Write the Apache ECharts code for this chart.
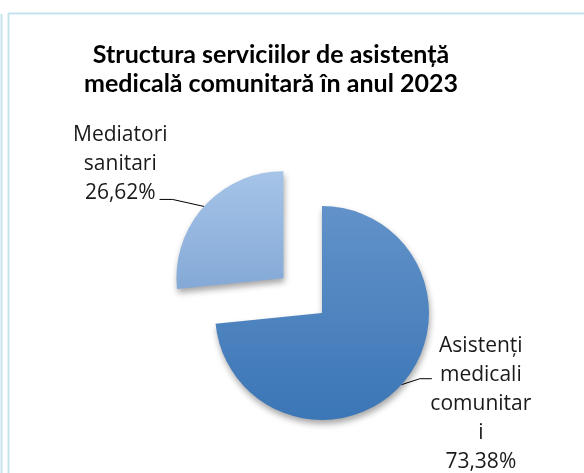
<!DOCTYPE html>
<html>
<head>
<meta charset="utf-8">
<script src="https://cdn.jsdelivr.net/npm/echarts@6/dist/echarts.min.js"></script>
<style>
  html, body { margin: 0; padding: 0; background: #fff; }
  #chart { width: 584px; height: 473px; }
</style>
</head>
<body>
<div id="chart"></div>
<script>
// date din grafic
const categories = ['Asistenți medicali comunitari', 'Mediatori sanitari'];
const values = [73.38, 26.62];
// textul etichetelor, rupt pe rânduri ca în original
const labelLines = [
    ['Asistenți', 'medicali', 'comunitar', 'i'],
    ['Mediatori', 'sanitari']
];

const chart = echarts.init(document.getElementById('chart'));

const fmtPct = v => v.toFixed(2).replace('.', ',') + '%';

// fiecare eticheta are propria pozitie fata de linia de legatura
const labelTweaks = [
    { padding: [31, 0, 0, 0], distanceToLabelLine: -1.5, length2: 26, rise: 6, bend: -12 },
    { padding: [0, 0, 77, 0], distanceToLabelLine: -8, length2: 40, rise: 7, bend: 13 }
];

const option = {
    animation: false,
    title: {
        text: 'Structura serviciilor de asistență\nmedicală comunitară în anul 2023',
        left: 271,
        top: 40,
        textAlign: 'center',
        padding: 0,
        textStyle: {
            fontFamily: 'Lato',
            fontWeight: 'bold',
            fontSize: 25,
            lineHeight: 29,
            color: '#000'
        }
    },
    graphic: [
        { type: 'line', shape: { x1: 1.5, y1: 14, x2: 1.5, y2: 473 }, style: { stroke: '#c5e3ec', lineWidth: 2 } },
        { type: 'line', shape: { x1: 8.5, y1: 13, x2: 8.5, y2: 473 }, style: { stroke: '#c5e3ec', lineWidth: 2 } },
        { type: 'line', shape: { x1: 8, y1: 13.5, x2: 584, y2: 13.5 }, style: { stroke: '#c5e3ec', lineWidth: 2 } }
    ],
    series: [
        {
            type: 'pie',
            center: [322, 313],
            radius: 107,
            startAngle: 90,
            clockwise: true,
            selectedMode: 'single',
            selectedOffset: 52,
            avoidLabelOverlap: false,
            data: categories.map((name, i) => ({
                name: name,
                value: values[i],
                selected: i === 1,
                itemStyle: {
                    color: new echarts.graphic.LinearGradient(0, 0, 0, 1, i === 0
                        ? [{ offset: 0, color: '#6292c9' }, { offset: 1, color: '#3b76b6' }]
                        : [{ offset: 0, color: '#a6c4e8' }, { offset: 1, color: '#84a9d6' }])
                },
                label: {
                    padding: labelTweaks[i].padding,
                    distanceToLabelLine: labelTweaks[i].distanceToLabelLine
                },
                labelLine: { length2: labelTweaks[i].length2 }
            })),
            itemStyle: {
                shadowBlur: 6,
                shadowOffsetX: 1,
                shadowOffsetY: 4,
                shadowColor: 'rgba(0,0,0,0.35)'
            },
            label: {
                show: true,
                position: 'outside',
                fontFamily: 'Open Sans',
                fontSize: 21,
                color: '#1a1a1a',
                formatter: p => labelLines[p.dataIndex].concat(fmtPct(p.value))
                    .map(s => '{c|' + s + '}').join('\n'),
                rich: {
                    c: { align: 'center', fontFamily: 'Open Sans', fontSize: 21, lineHeight: 29, color: '#1a1a1a' }
                }
            },
            // linia de legatura ca in Excel: oblica, apoi orizontala
            labelLayout: params => {
                const pts = params.labelLinePoints;
                if (!pts) return {};
                const t = labelTweaks[params.dataIndex];
                const y = pts[0][1] - t.rise;
                return {
                    labelLinePoints: [
                        pts[0],
                        [pts[2][0] + t.bend, y],
                        [pts[2][0], y]
                    ]
                };
            },
            labelLine: {
                show: true,
                length: 6,
                length2: 18,
                lineStyle: { color: '#000', width: 1 }
            },
            emphasis: { disabled: true }
        }
    ]
};

chart.setOption(option);
</script>
</body>
</html>
